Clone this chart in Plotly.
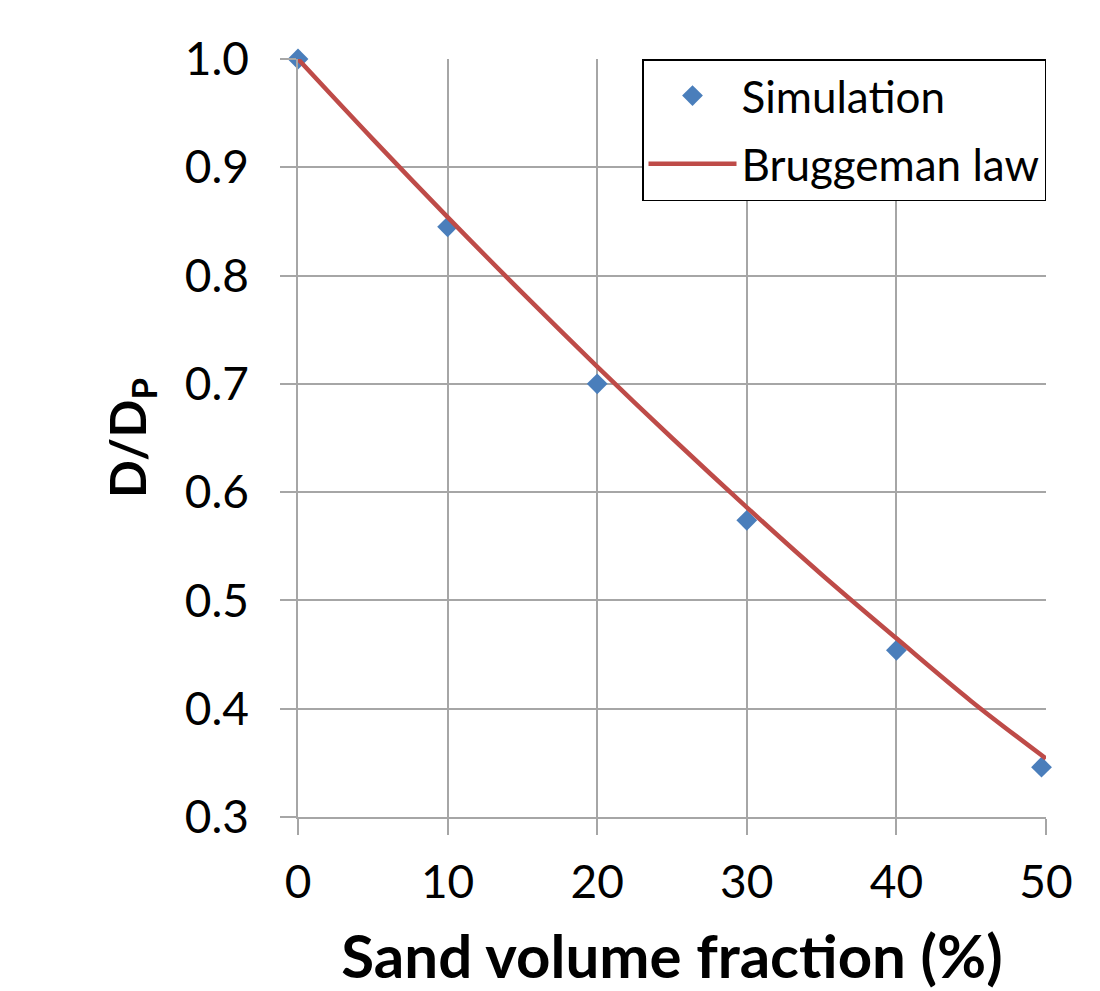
import plotly.graph_objects as go

sim_x = [0, 10, 20, 30, 40, 49.7]
sim_y = [1.0, 0.845, 0.700, 0.574, 0.454, 0.346]

brug_x = [0, 5, 10, 15, 20, 25, 30, 35, 40, 45, 50]
brug_y = [1.0, 0.926, 0.854, 0.784, 0.716, 0.650, 0.586, 0.524, 0.465, 0.407, 0.354]

x_ticks = [0, 10, 20, 30, 40, 50]
y_ticks = [0.3, 0.4, 0.5, 0.6, 0.7, 0.8, 0.9, 1.0]

FONT = "Lato"
GRID = "#a6a6a6"

fig = go.Figure()
fig.add_trace(go.Scatter(
    x=sim_x, y=sim_y, mode="markers", name="Simulation",
    legendgroup="a", cliponaxis=False,
    marker=dict(symbol="diamond", color="#4a7ebb", size=16, line=dict(width=0)),
))
fig.add_trace(go.Scatter(
    x=brug_x, y=brug_y, mode="lines", name="Bruggeman law",
    legendgroup="b", cliponaxis=False,
    line=dict(color="#be4b48", width=4.5, shape="spline"),
))

fig.update_layout(
    width=1100, height=991,
    margin=dict(l=298, r=54, t=59, b=174),
    paper_bgcolor="white", plot_bgcolor="white",
    font=dict(family=FONT, color="black", size=44),
    showlegend=True,
    legend=dict(
        x=1.0, y=1.0, xanchor="right", yanchor="top",
        bgcolor="white", bordercolor="black", borderwidth=1.5,
        font=dict(size=44, family=FONT),
        traceorder="grouped",
        tracegroupgap=8,
        itemwidth=88,
    ),
    xaxis=dict(
        range=[0, 50], tickvals=x_ticks, ticktext=[str(v) for v in x_ticks],
        showgrid=True, gridcolor=GRID, gridwidth=1.5,
        showline=True, linecolor=GRID, linewidth=1.5,
        ticks="outside", ticklen=16, tickcolor=GRID, tickwidth=1.5,
        ticklabelstandoff=8,
        zeroline=False, automargin=False,
        tickfont=dict(size=46, family=FONT),
        title=dict(text="<b>Sand volume fraction (%)</b>", font=dict(size=60, family=FONT), standoff=37),
    ),
    yaxis=dict(
        range=[0.3, 1.0], tickvals=y_ticks, ticktext=[f"{v:.1f}" for v in y_ticks],
        showgrid=True, gridcolor=GRID, gridwidth=1.5,
        showline=True, linecolor=GRID, linewidth=1.5,
        ticks="outside", ticklen=16, tickcolor=GRID, tickwidth=1.5,
        ticklabelstandoff=22,
        zeroline=False, automargin=False,
        tickfont=dict(size=46, family=FONT),
        title=dict(text="<b>D/D<sub>P</sub></b>", font=dict(size=50, family=FONT), standoff=22),
    ),
)

fig.write_html("out.html")
